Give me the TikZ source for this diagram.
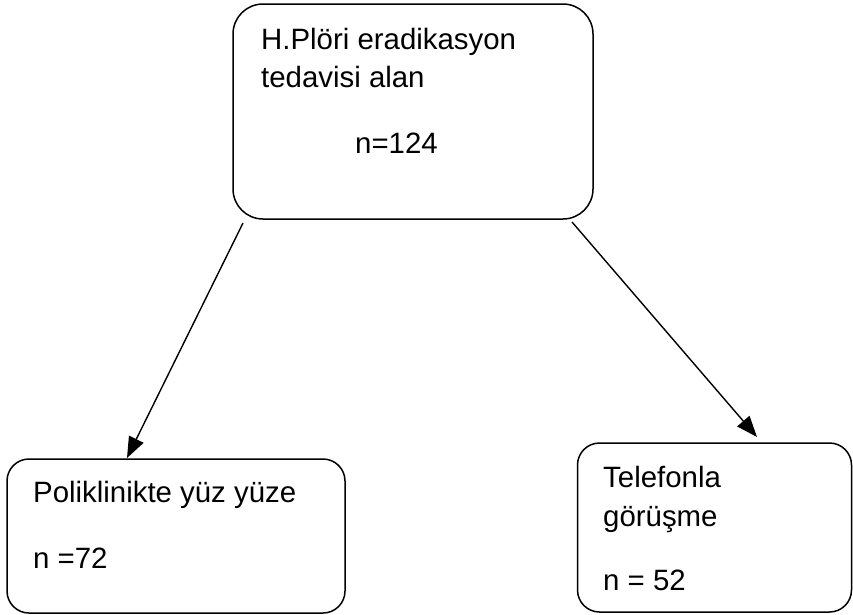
\documentclass[tikz,border=0pt]{standalone}
\usepackage{fontspec}
\setmainfont{Liberation Sans}
\usetikzlibrary{arrows.meta}
\begin{document}
\begin{tikzpicture}[x=1pt,y=-1pt,
  box/.style={draw=black, line width=1.5pt, rectangle, inner sep=0pt},
  lbl/.style={anchor=base west, inner sep=0pt, font=\fontsize{29.4}{34}\selectfont},
  conn/.style={draw=black, line width=1.4pt, -{Triangle[length=21pt,width=16pt]}}]
\useasboundingbox (0,0) rectangle (853,614);
\node[box, rounded corners=30pt, minimum width=360pt, minimum height=215pt] (top) at (413,111.5) {};
\node[box, rounded corners=22pt, minimum width=338pt, minimum height=154pt] (left) at (176,536) {};
\node[box, rounded corners=22pt, minimum width=274pt, minimum height=169pt] (right) at (714.5,527.5) {};
\node[lbl] (t1) at (261,49) {H.Plöri eradikasyon};
\node[lbl] (t2) at (261,87) {tedavisi alan};
\node[lbl] (t3) at (355,153) {n=124};
\node[lbl] (l1) at (33,502) {Poliklinikte yüz yüze};
\node[lbl] (l2) at (33,568) {n =72};
\node[lbl] (r1) at (603,487) {Telefonla};
\node[lbl] (r2) at (603,526) {görüşme};
\node[lbl] (r3) at (603,590) {n = 52};
\coordinate (a1) at (243,223);
\coordinate (a2) at (572,222);
\coordinate (b1) at (127,458);
\coordinate (b2) at (757,437);
\draw[conn] (a1) -- (b1);
\draw[conn] (a2) -- (b2);
\end{tikzpicture}
\end{document}
